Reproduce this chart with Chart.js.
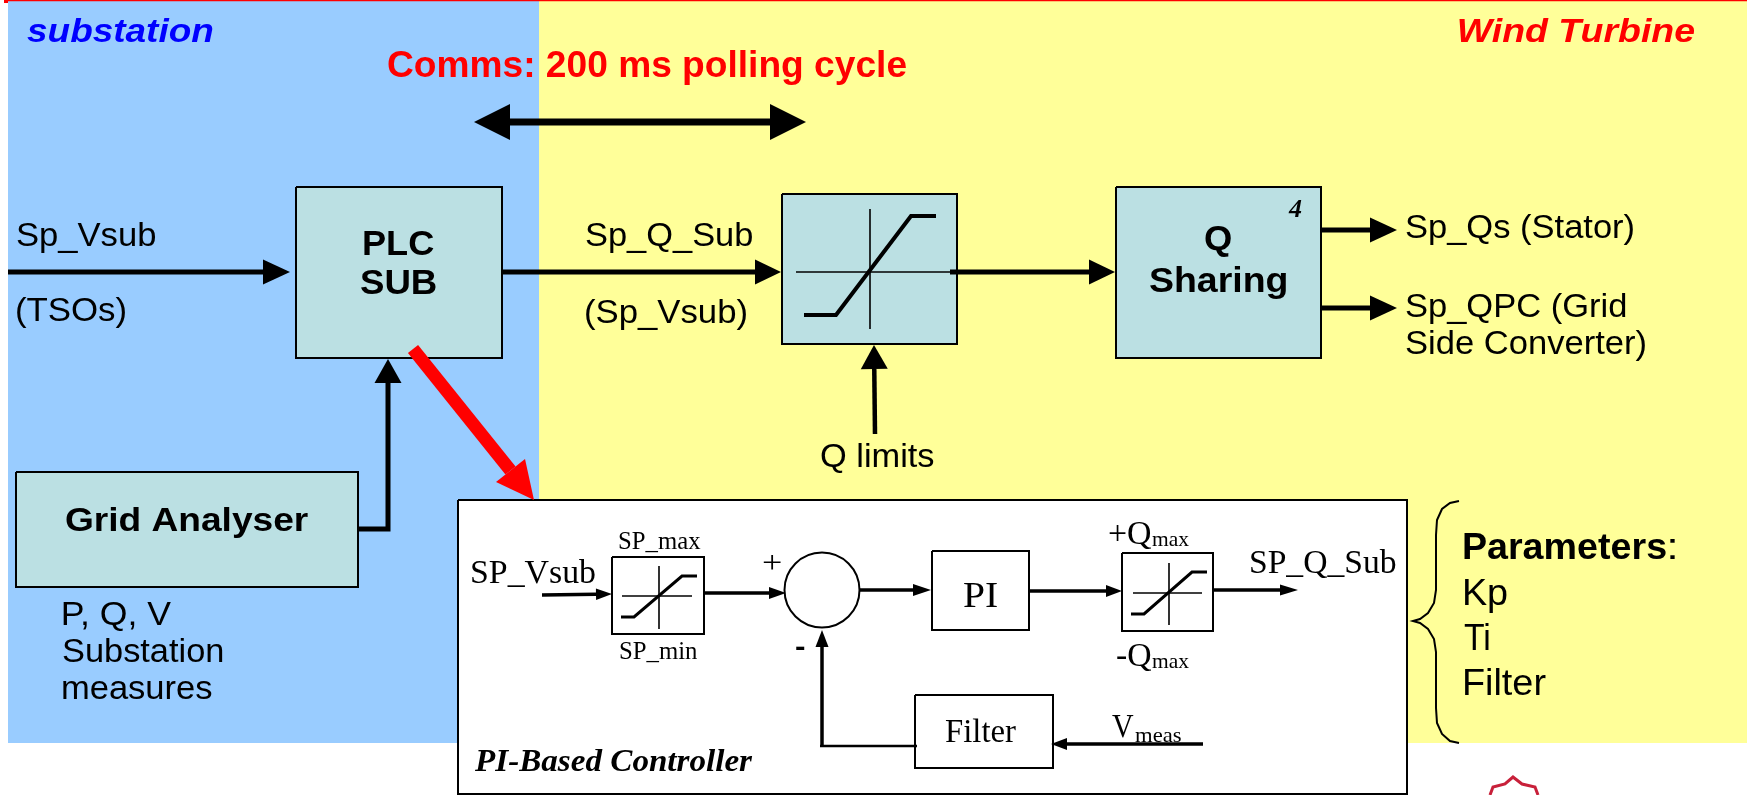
<!DOCTYPE html>
<html>
<head>
<meta charset="utf-8">
<script src="https://cdn.jsdelivr.net/npm/chart.js@4"></script>
<style>
  html, body { margin: 0; padding: 0; background: #fff; overflow: hidden; }
  canvas { display: block; }
</style>
</head>
<body>
<canvas id="diagram" width="1747" height="795"></canvas>
<script>
// diagram space is the picture itself: x 0..1747, y 0..795 (y pointing down)
const zoneNames  = ['substation', 'Wind Turbine'];
const zoneLeft   = [8, 539];
const zoneRight  = [539, 1747];
const zoneTop    = [1, 1];
const zoneBottom = [743, 743];

const blockNames  = ['PLC SUB', 'Q limiter', 'Q Sharing', 'Grid Analyser'];
const blockLeft   = [296, 782, 1116, 16];
const blockRight  = [502, 957, 1321, 358];
const blockTop    = [187, 194, 187, 472];
const blockBottom = [358, 344, 358, 587];

const panelNames  = ['PI-Based Controller', 'SP limiter', 'PI', 'Q max limiter', 'Filter'];
const panelLeft   = [458, 612, 932, 1122, 915];
const panelRight  = [1407, 704, 1029, 1213, 1053];
const panelTop    = [500, 557, 551, 553, 695];
const panelBottom = [794, 634, 630, 631, 768];

// thick arrows: path ends on the tip
const bigArrows = [
  [[8, 272], [290, 272]],
  [[502, 272], [781, 272]],
  [[950, 272], [1115, 272]],
  [[1321, 230], [1397, 230]],
  [[1321, 308], [1397, 308]],
  [[358, 529], [388, 529], [388, 359]],
  [[875, 434], [874, 345]],
];
const bigHeadLen = [27, 26, 26, 27, 27, 24, 24];
const bigHeadHalf = [12.5, 12.5, 12.5, 12.5, 12.5, 13.5, 13.5];

// small arrows inside the controller panel
const smallArrows = [
  [[542, 595], [612, 594]],
  [[704, 593], [786, 593]],
  [[858, 590], [931, 590]],
  [[1029, 591], [1122, 591]],
  [[1213, 590], [1298, 590]],
  [[1203, 744], [1051, 744]],
  [[822, 746], [822, 630]],
];
const smallHeadLen = [16, 17, 18, 16, 18, 16, 17];
const smallHeadHalf = [5.7, 6, 6, 6, 5.5, 6, 6.5];
const feedbackLine = [[917, 746], [820, 746]];

const commsTips = [[474, 122], [806, 122]];
const commsBases = [[510, 122], [770, 122]];
const commsHeadHalf = 18;

const linkTail = [413, 349];
const linkTip = [534, 500];
const linkHead = [[525, 459], [496, 482]];

const axisLines = [
  [[796, 272], [957, 272]], [[870, 209], [870, 329]],
  [[622, 596], [692, 596]], [[659, 566], [659, 629]],
  [[1133, 593], [1202, 593]], [[1169, 563], [1169, 625]],
];
const saturationCurves = [
  [[804, 315], [836, 315], [911, 216], [936, 216]],
  [[621, 617], [634, 617], [682, 576], [697, 576]],
  [[1131, 614], [1144, 614], [1192, 572], [1207, 572]],
];
const sumCircle = [822, 590, 37.5];
const brace = [[1459, 501], [1450, 503], [1442, 509], [1437, 520], [1436, 535], [1436, 590], [1434, 603], [1428, 613], [1420, 619], [1413, 621],
  [1420, 623], [1428, 629], [1434, 639], [1436, 652], [1436, 708], [1437, 723], [1442, 734], [1450, 741], [1459, 743]];
const logoEdge = [[1490, 795], [1493, 787], [1505, 784], [1513, 777], [1522, 784], [1535, 787], [1538, 795]];
const topEdge = [[4, 0.5], [1747, 0.5]];
const cornerTick = [[6, 0], [6, 3]];

const labelTexts = ['substation', 'Wind Turbine', 'Comms: 200 ms polling cycle',
  'Sp_Vsub', '(TSOs)', 'PLC', 'SUB', 'Sp_Q_Sub', '(Sp_Vsub)', 'Q limits',
  'Q', 'Sharing', '4', 'Sp_Qs (Stator)', 'Sp_QPC (Grid', 'Side Converter)',
  'Grid Analyser', 'P, Q, V', 'Substation', 'measures',
  'Parameters', ':', 'Kp', 'Ti', 'Filter',
  'SP_Vsub', 'SP_max', 'SP_min', '+', '-', 'PI', 'Filter', 'SP_Q_Sub',
  '+Q', 'max', '-Q', 'max', 'V', 'meas', 'PI-Based Controller'];
const labelX = [27, 1459, 388,
  17, 17, 364, 361, 586, 586, 821,
  1205, 1150, 1288, 1406, 1406, 1406,
  66, 63, 63, 63,
  1464, 1670, 1464, 1464, 1464,
  472, 619, 620, 763, 796, 964, 945, 1251,
  1109, 1152, 1117, 1152, 1112, 1135, 474];
const labelY = [42, 42, 77,
  246, 321, 255, 294, 246, 323, 467,
  250, 292, 217, 238, 317, 354,
  531, 625, 662, 699,
  559, 559, 605, 650, 695,
  583, 549, 659, 573, 656, 607, 742, 573,
  544, 546, 666, 668, 737, 742, 771];
const labelW = [186, 235, 518,
  138, 108, 70, 75, 166, 160, 113,
  26, 137, 14, 227, 220, 239,
  242, 108, 160, 149,
  202, 5, 43, 25, 82,
  123, 82, 78, 18, 9, 33, 71, 145,
  42, 37, 34, 37, 22, 46, 279];
const labelFont = ['bold italic 34px "Liberation Sans"', 'bold italic 34px "Liberation Sans"', 'bold 36px "Liberation Sans"',
  '33px "Liberation Sans"', '33px "Liberation Sans"', 'bold 35px "Liberation Sans"', 'bold 35px "Liberation Sans"', '33px "Liberation Sans"', '33px "Liberation Sans"', '33px "Liberation Sans"',
  'bold 35px "Liberation Sans"', 'bold 35px "Liberation Sans"', 'bold italic 26px "Liberation Serif"', '33px "Liberation Sans"', '33px "Liberation Sans"', '33px "Liberation Sans"',
  'bold 34px "Liberation Sans"', '33px "Liberation Sans"', '33px "Liberation Sans"', '33px "Liberation Sans"',
  'bold 36px "Liberation Sans"', '36px "Liberation Sans"', '36px "Liberation Sans"', '36px "Liberation Sans"', '36px "Liberation Sans"',
  '34px "Liberation Serif"', '25px "Liberation Serif"', '25px "Liberation Serif"', '32px "Liberation Serif"', 'bold 28px "Liberation Sans"', '36px "Liberation Serif"', '33px "Liberation Serif"', '33px "Liberation Serif"',
  '34px "Liberation Serif"', '22px "Liberation Serif"', '34px "Liberation Serif"', '22px "Liberation Serif"', '34px "Liberation Serif"', '22px "Liberation Serif"', 'bold italic 31px "Liberation Serif"'];
const labelColor = ['#0000ff', '#ff0000', '#ff0000'];

const BLACK = '#000000';
const RED = '#ff0000';
const BLUE_ZONE = '#99ccff';
const YELLOW_ZONE = '#ffff99';
const BLOCK_FILL = '#bbe0e3';

function rectPoints(l, r, t, b) {
  return [{x: l, y: t}, {x: r, y: t}, {x: r, y: b}, {x: l, y: b}, {x: l, y: t}];
}
function toPoints(path) {
  return path.map(p => ({x: p[0], y: p[1]}));
}
function lineSet(path, color, width) {
  return {data: toPoints(path), borderColor: color, borderWidth: width, showLine: true, fill: false, tension: 0,
          pointRadius: 0, borderCapStyle: 'butt', borderJoinStyle: 'miter', clip: false};
}
function shapeSet(points, fillColor, strokeColor, width) {
  return {data: points, backgroundColor: fillColor, borderColor: strokeColor, borderWidth: width, showLine: true,
          fill: 'shape', tension: 0, pointRadius: 0, clip: false};
}
// arrow = shaft that stops at the head + filled triangle
function arrowSets(path, headLen, headHalf, color, width) {
  const n = path.length;
  const tip = path[n - 1], prev = path[n - 2];
  const len = Math.hypot(tip[0] - prev[0], tip[1] - prev[1]);
  const ux = (tip[0] - prev[0]) / len, uy = (tip[1] - prev[1]) / len;
  const bx = tip[0] - ux * headLen, by = tip[1] - uy * headLen;
  const shaft = path.slice(0, n - 1).concat([[bx, by]]);
  const head = [[tip[0], tip[1]], [bx - uy * headHalf, by + ux * headHalf], [bx + uy * headHalf, by - ux * headHalf], [tip[0], tip[1]]];
  return [lineSet(shaft, color, width), shapeSet(toPoints(head), color, color, 0)];
}

// Chart.js paints the first dataset last, so build bottom-up and reverse
let layers = [];
zoneNames.forEach((_, i) => {
  layers.push(shapeSet(rectPoints(zoneLeft[i], zoneRight[i], zoneTop[i], zoneBottom[i]), i === 0 ? BLUE_ZONE : YELLOW_ZONE, 'transparent', 0));
});
layers.push(lineSet(topEdge, RED, 1.5));
layers.push(lineSet(cornerTick, RED, 4));
layers.push(lineSet(logoEdge, '#c8203a', 3));
blockNames.forEach((_, i) => {
  layers.push(shapeSet(rectPoints(blockLeft[i], blockRight[i], blockTop[i], blockBottom[i]), BLOCK_FILL, BLACK, 2));
});
panelNames.forEach((_, i) => {
  layers.push(shapeSet(rectPoints(panelLeft[i], panelRight[i], panelTop[i], panelBottom[i]), '#ffffff', BLACK, 2));
});
axisLines.forEach(p => layers.push(lineSet(p, BLACK, 1.6)));
saturationCurves.forEach((p, i) => layers.push(lineSet(p, BLACK, i === 0 ? 4 : 3)));
bigArrows.forEach((p, i) => { layers = layers.concat(arrowSets(p, bigHeadLen[i], bigHeadHalf[i], BLACK, i === 6 ? 4.5 : 5)); });
smallArrows.forEach((p, i) => { layers = layers.concat(arrowSets(p, smallHeadLen[i], smallHeadHalf[i], BLACK, 3.5)); });
layers.push(lineSet(feedbackLine, BLACK, 2.5));
layers.push(lineSet(commsBases, BLACK, 7));
commsTips.forEach((tip, i) => {
  const b = commsBases[i];
  layers.push(shapeSet(toPoints([tip, [b[0], b[1] - commsHeadHalf], [b[0], b[1] + commsHeadHalf], tip]), BLACK, BLACK, 0));
});
layers.push(lineSet([linkTail, [(linkHead[0][0] + linkHead[1][0]) / 2, (linkHead[0][1] + linkHead[1][1]) / 2]], RED, 13));
layers.push(shapeSet(toPoints([linkTip, linkHead[0], linkHead[1], linkTip]), RED, RED, 0));
layers.push(lineSet(brace, BLACK, 2));
layers.push({data: [{x: sumCircle[0], y: sumCircle[1]}], showLine: false, pointRadius: sumCircle[2], pointBorderWidth: 2,
             pointBorderColor: BLACK, pointBackgroundColor: '#ffffff', clip: false});
layers.reverse();

// texts are stretched to the ink width measured on the reference
const textPlugin = {
  id: 'diagramText',
  afterDatasetsDraw(chart) {
    const ctx = chart.ctx, sx = chart.scales.x, sy = chart.scales.y;
    labelTexts.forEach((t, i) => {
      ctx.save();
      ctx.font = labelFont[i];
      ctx.fillStyle = labelColor[i] || BLACK;
      ctx.textBaseline = 'alphabetic';
      const m = ctx.measureText(t);
      const ink = m.actualBoundingBoxRight + m.actualBoundingBoxLeft;
      const k = labelW[i] / ink;
      ctx.translate(sx.getPixelForValue(labelX[i]), sy.getPixelForValue(labelY[i]));
      ctx.scale(k, 1);
      ctx.fillText(t, m.actualBoundingBoxLeft, 0);
      ctx.restore();
    });
  }
};

new Chart(document.getElementById('diagram'), {
  type: 'scatter',
  data: {datasets: layers},
  options: {
    responsive: false,
    animation: false,
    layout: {padding: 0, autoPadding: false},
    plugins: {legend: {display: false}, tooltip: {enabled: false}, title: {display: false}},
    scales: {
      x: {type: 'linear', min: 0, max: 1747, display: false},
      y: {type: 'linear', min: 0, max: 795, reverse: true, display: false}
    }
  },
  plugins: [textPlugin]
});
</script>
</body>
</html>
